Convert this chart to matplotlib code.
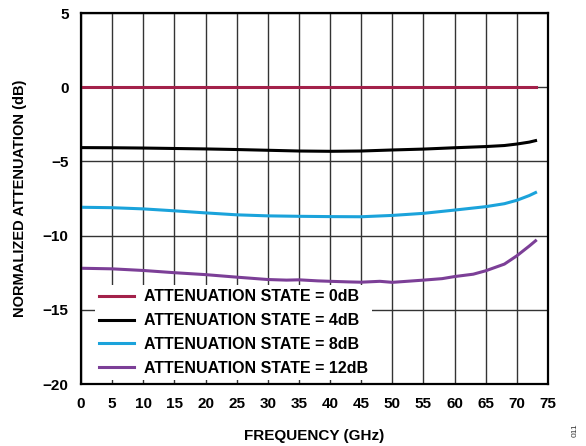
import matplotlib.pyplot as plt

plt.rcParams['font.family'] = ['Liberation Sans', 'DejaVu Sans']
plt.rcParams['font.weight'] = 'bold'

# normalized attenuation vs frequency
freq_0db = [0, 73]
att_0db = [0, 0]

freq_4db = [0, 5, 10, 15, 20, 25, 30, 35, 40, 45, 50, 55, 60, 65, 68, 70, 72, 73]
att_4db = [-4.07, -4.08, -4.1, -4.13, -4.16, -4.2, -4.25, -4.3, -4.32, -4.3, -4.23, -4.17, -4.08, -4.0, -3.93, -3.83, -3.7, -3.6]

freq_8db = [0, 5, 10, 15, 20, 25, 30, 35, 40, 45, 50, 55, 60, 65, 68, 70, 72, 73]
att_8db = [-8.09, -8.12, -8.2, -8.33, -8.47, -8.6, -8.67, -8.7, -8.72, -8.73, -8.64, -8.5, -8.28, -8.05, -7.85, -7.62, -7.3, -7.1]

freq_12db = [0, 5, 10, 15, 20, 25, 30, 33, 35, 38, 40, 43, 45, 48, 50, 53, 55, 58, 60, 63, 65, 68, 70, 72, 73]
att_12db = [-12.2, -12.24, -12.35, -12.5, -12.63, -12.8, -12.96, -13.0, -12.98, -13.05, -13.08, -13.12, -13.14, -13.08, -13.15, -13.06, -13.0, -12.9, -12.76, -12.6, -12.37, -11.92, -11.36, -10.7, -10.35]

labels = ['ATTENUATION STATE = 0dB', 'ATTENUATION STATE = 4dB',
          'ATTENUATION STATE = 8dB', 'ATTENUATION STATE = 12dB']
colors = ['#A3214A', '#000000', '#1BA3DB', '#7C3F97']

fig = plt.figure(figsize=(5.86, 4.46), dpi=100)
ax = fig.add_axes([81 / 586, 1 - 384 / 446, (548 - 81) / 586, (384 - 13) / 446])

ax.plot(freq_0db, att_0db, color=colors[0], lw=2.2, label=labels[0])
ax.plot(freq_4db, att_4db, color=colors[1], lw=2.2, label=labels[1])
ax.plot(freq_8db, att_8db, color=colors[2], lw=2.2, label=labels[2])
ax.plot(freq_12db, att_12db, color=colors[3], lw=2.2, label=labels[3])

ax.set_xlim(0, 75)
ax.set_ylim(-20, 5)
ax.set_xticks(range(0, 76, 5))
ax.set_yticks(range(-20, 6, 5))
ax.grid(True, color='#333333', lw=1.0)
ax.set_axisbelow(True)
ax.tick_params(length=0, labelsize=11, pad=9)
for s in ax.spines.values():
    s.set_linewidth(1.6)

ax.set_xlabel('FREQUENCY (GHz)', fontsize=11, fontweight='bold', labelpad=13)
ax.set_ylabel('NORMALIZED ATTENUATION (dB)', fontsize=10.5, fontweight='bold', labelpad=11)

# white box hides the grid but sits under the curves and spines
leg = ax.legend(loc='lower left', bbox_to_anchor=(0.012, -0.01), frameon=True,
                fancybox=False, edgecolor='none', framealpha=1.0,
                prop={'size': 11.5, 'weight': 'bold'}, handlelength=2.2,
                labelspacing=0.55, borderpad=0.25, handletextpad=0.65)
leg.get_frame().set_linewidth(0)
leg.set_zorder(1.5)

fig.text(0.982, 0.035, '011', rotation=90, fontsize=6, fontweight='normal',
         ha='center', va='center', color='#333333')

fig.savefig('out.png', dpi=100)
